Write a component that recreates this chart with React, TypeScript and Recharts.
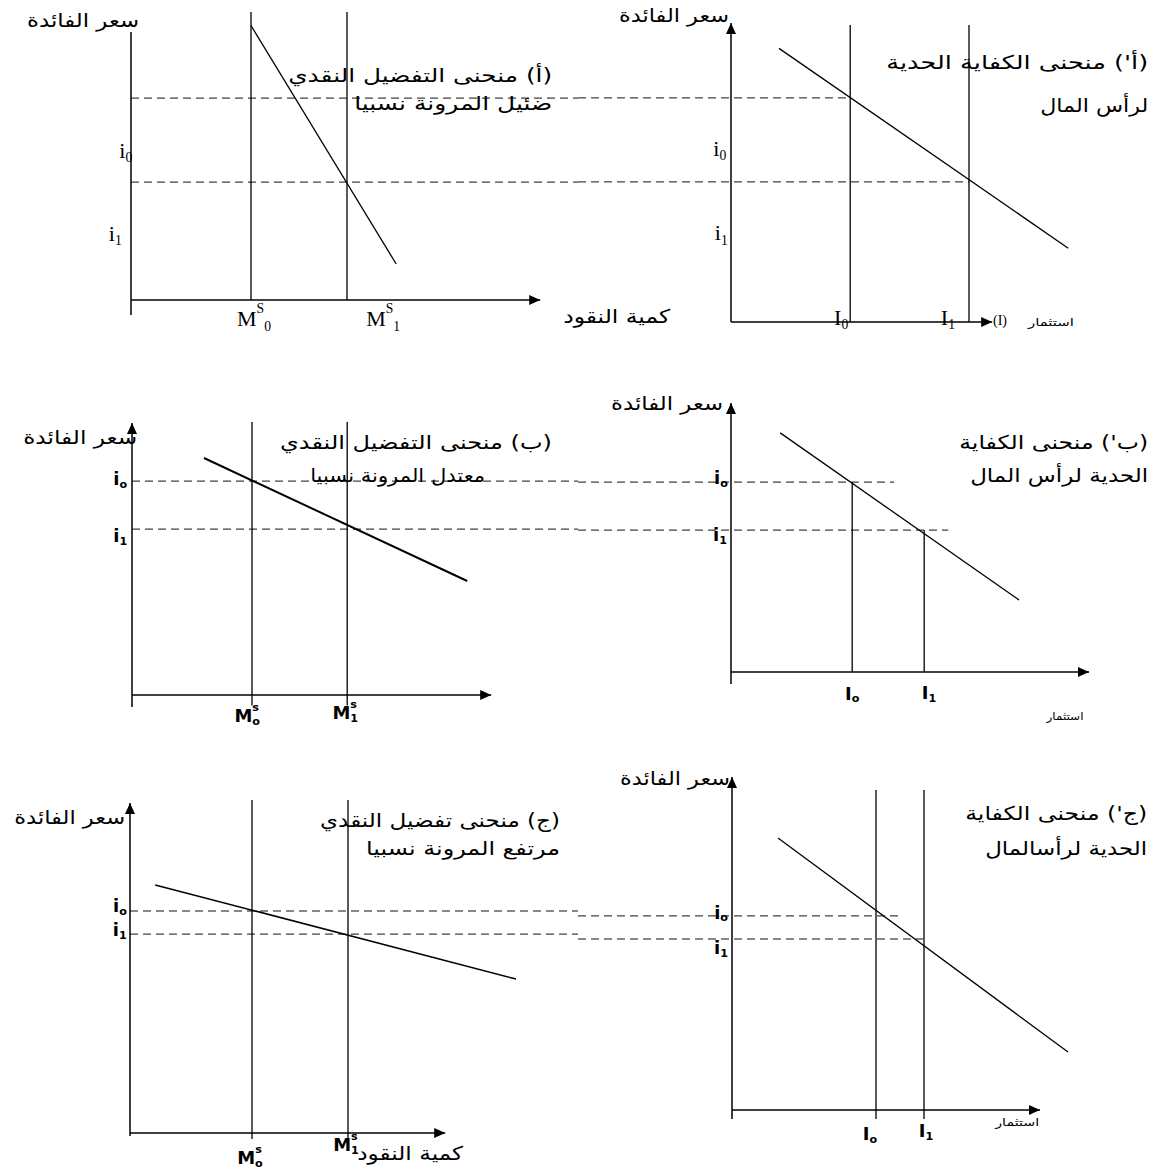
import React from "react";
import { LineChart, Line, XAxis, YAxis, ReferenceLine, ReferenceDot } from "recharts";

type Pt = { q: number; r: number };

// values are in each panel's own units: quantity along x, interest rate along y

// (أ) liquidity preference, low elasticity
const supplyA = [3.0, 5.4]; // M^S_0, M^S_1
const ratesA = [6.73, 3.93]; // i0, i1
const demandA: Pt[] = [
  { q: 3.0, r: 9.15 },
  { q: 6.63, r: 1.2 },
];

// (أ') marginal efficiency of capital
const investA = [2.98, 5.95]; // I0, I1
const mecRatesA = [7.47, 4.67];
const mecA: Pt[] = [
  { q: 1.2, r: 9.12 },
  { q: 8.43, r: 2.46 },
];

// (ب) liquidity preference, moderate elasticity
const supplyB = [3.0, 5.38];
const ratesB = [7.13, 5.53];
const demandB: Pt[] = [
  { q: 1.8, r: 7.9 },
  { q: 8.38, r: 3.8 },
];

// (ب')
const investB = [3.03, 4.83];
const mecRatesB = [6.33, 4.73];
const mecGuideEndB = [4.08, 5.43];
const mecB: Pt[] = [
  { q: 1.23, r: 7.97 },
  { q: 7.2, r: 2.4 },
];

// (ج) liquidity preference, high elasticity
const supplyC = [3.05, 5.45];
const ratesC = [7.4, 6.63];
const demandC: Pt[] = [
  { q: 0.63, r: 8.27 },
  { q: 9.65, r: 5.13 },
];

// (ج')
const investC = [3.6, 4.8];
const mecRatesC = [6.47, 5.7];
const mecGuideEndC = [4.18, 4.78];
const mecC: Pt[] = [
  { q: 1.15, r: 9.07 },
  { q: 8.4, r: 1.93 },
];

const RATE = "سعر الفائدة";
const MONEY = "كمية النقود";
const INVEST = "استثمار";
const titleA = ["(أ) منحنى التفضيل النقدي", "ضئيل المرونة نسبيا"];
const titleA2 = ["(أ') منحنى الكفاية الحدية", "لرأس المال"];
const titleB = ["(ب) منحنى التفضيل النقدي", "معتدل المرونة نسبيا"];
const titleB2 = ["(ب') منحنى الكفاية", "الحدية لرأس المال"];
const titleC = ["(ج) منحنى تفضيل النقدي", "مرتفع المرونة نسبيا"];
const titleC2 = ["(ج') منحنى الكفاية", "الحدية لرأسالمال"];

// layout
const PX_Q = 40; // px per quantity unit
const PX_R = 30; // px per rate unit
const SPLIT = 578; // where the left and right panels meet

type Tag = {
  q: number;
  r: number;
  text: string;
  sup?: string;
  sub?: string;
  kind: "ar" | "arSmall" | "serif" | "hand" | "small";
  align: "left" | "right" | "center";
  w?: number; // stretch arabic text to this width
};

type Edge = number | "edge";

type PanelSpec = {
  box: [number, number, number, number];
  origin: [number, number];
  curve: Pt[];
  curveWidth: number;
  verticals: { q: number; from: number; to: number }[];
  guides: { r: number; from: Edge; to: Edge }[];
  xAxisEnd: number;
  yAxis: [number, number];
  yArrow: boolean;
  tags: Tag[];
};

const FONT = {
  ar: { family: "'DejaVu Sans', sans-serif", size: 19, weight: 400 },
  arSmall: { family: "'DejaVu Sans', sans-serif", size: 11, weight: 400 },
  serif: { family: "'Liberation Serif', serif", size: 22, weight: 400 },
  hand: { family: "'DejaVu Sans', sans-serif", size: 18, weight: 700 },
  small: { family: "'Liberation Serif', serif", size: 14, weight: 400 },
};

const tagShape = (tag: Tag) => (p: any) => {
  const f = FONT[tag.kind];
  const rtl = tag.kind === "ar" || tag.kind === "arSmall";
  let anchor = tag.align === "center" ? "middle" : tag.align === "right" ? "end" : "start";
  if (rtl && tag.align !== "center") anchor = tag.align === "right" ? "start" : "end";
  const small = f.size * 0.62;
  const stack = tag.kind === "hand" && tag.sup;
  return (
    <text
      x={p.cx}
      y={p.cy}
      fontFamily={f.family}
      fontSize={f.size}
      fontWeight={f.weight}
      fill="#000"
      textAnchor={anchor}
      dominantBaseline="central"
      direction={rtl ? "rtl" : "ltr"}
      textLength={tag.w}
      lengthAdjust={tag.w ? "spacingAndGlyphs" : undefined}
    >
      {tag.text}
      {tag.sup && (
        <tspan dy={-f.size * 0.45} fontSize={small}>
          {tag.sup}
        </tspan>
      )}
      {tag.sub && (
        <tspan dx={stack ? -small * 0.6 : 0} dy={tag.sup ? f.size * 0.8 : f.size * 0.3} fontSize={small}>
          {tag.sub}
        </tspan>
      )}
    </text>
  );
};

const arrowRight = (p: any) => (
  <polygon points={`${p.cx},${p.cy} ${p.cx - 11},${p.cy - 5} ${p.cx - 11},${p.cy + 5}`} fill="#000" />
);
const arrowUp = (p: any) => (
  <polygon points={`${p.cx},${p.cy} ${p.cx - 5},${p.cy + 11} ${p.cx + 5},${p.cy + 11}`} fill="#000" />
);

function Panel({ spec }: { spec: PanelSpec }) {
  const [left, top, width, height] = spec.box;
  const [ox, oy] = spec.origin;
  const xDomain = [(left - ox) / PX_Q, (left + width - ox) / PX_Q];
  const yDomain = [(oy - top - height) / PX_R, (oy - top) / PX_R];
  const edge = (SPLIT - ox) / PX_Q;
  const at = (v: Edge) => (v === "edge" ? edge : v);

  return (
    <div style={{ position: "absolute", left, top }}>
      <LineChart width={width} height={height} data={spec.curve} margin={{ top: 0, right: 0, bottom: 0, left: 0 }}>
        <XAxis type="number" dataKey="q" domain={xDomain} hide allowDataOverflow />
        <YAxis type="number" domain={yDomain} hide allowDataOverflow />
        {spec.guides.map((g, i) => (
          <ReferenceLine
            key={`g${i}`}
            segment={[
              { x: at(g.from), y: g.r },
              { x: at(g.to), y: g.r },
            ]}
            stroke="#111"
            strokeWidth={1}
            strokeDasharray="8 5"
            ifOverflow="visible"
          />
        ))}
        {spec.verticals.map((v, i) => (
          <ReferenceLine
            key={`v${i}`}
            segment={[
              { x: v.q, y: v.from },
              { x: v.q, y: v.to },
            ]}
            stroke="#000"
            strokeWidth={1.3}
            ifOverflow="visible"
          />
        ))}
        <ReferenceLine
          segment={[
            { x: 0, y: 0 },
            { x: spec.xAxisEnd, y: 0 },
          ]}
          stroke="#000"
          strokeWidth={1.5}
          ifOverflow="visible"
        />
        <ReferenceLine
          segment={[
            { x: 0, y: spec.yAxis[0] },
            { x: 0, y: spec.yAxis[1] },
          ]}
          stroke="#000"
          strokeWidth={1.5}
          ifOverflow="visible"
        />
        <Line dataKey="r" stroke="#000" strokeWidth={spec.curveWidth} dot={false} activeDot={false} isAnimationActive={false} />
        <ReferenceDot x={spec.xAxisEnd} y={0} r={0} ifOverflow="visible" shape={arrowRight} />
        {spec.yArrow && <ReferenceDot x={0} y={spec.yAxis[1]} r={0} ifOverflow="visible" shape={arrowUp} />}
        {spec.tags.map((t, i) => (
          <ReferenceDot key={`t${i}`} x={t.q} y={t.r} r={0} ifOverflow="visible" shape={tagShape(t)} />
        ))}
      </LineChart>
    </div>
  );
}

const LEFT_W = 720;
const RIGHT_W = 579;

const panels: PanelSpec[] = [
  {
    box: [0, 0, LEFT_W, 345],
    origin: [131, 300],
    curve: demandA,
    curveWidth: 1.3,
    verticals: supplyA.map((q) => ({ q, from: 0, to: 9.6 })),
    guides: ratesA.map((r) => ({ r, from: 0, to: "edge" as Edge })),
    xAxisEnd: 10.23,
    yAxis: [-0.5, 8.93],
    yArrow: false,
    tags: [
      { q: 0.2, r: 9.33, text: RATE, kind: "ar", align: "right", w: 112 },
      { q: 0.03, r: 5.0, text: "i", sub: "0", kind: "serif", align: "right" },
      { q: -0.23, r: 2.23, text: "i", sub: "1", kind: "serif", align: "right" },
      { q: 2.65, r: -0.6, text: "M", sup: "S", sub: "0", kind: "serif", align: "left" },
      { q: 5.88, r: -0.6, text: "M", sup: "S", sub: "1", kind: "serif", align: "left" },
      { q: 13.48, r: -0.53, text: MONEY, kind: "ar", align: "right", w: 107 },
      { q: 10.53, r: 7.5, text: titleA[0], kind: "ar", align: "right", w: 264 },
      { q: 10.53, r: 6.57, text: titleA[1], kind: "ar", align: "right", w: 198 },
    ],
  },
  {
    box: [SPLIT, 0, RIGHT_W, 345],
    origin: [731, 322],
    curve: mecA,
    curveWidth: 1.3,
    verticals: investA.map((q) => ({ q, from: 0, to: 9.9 })),
    guides: mecRatesA.map((r, i) => ({ r, from: "edge" as Edge, to: investA[i] })),
    xAxisEnd: 6.53,
    yAxis: [0, 9.97],
    yArrow: true,
    tags: [
      { q: -0.05, r: 10.23, text: RATE, kind: "ar", align: "right", w: 110 },
      { q: -0.12, r: 5.8, text: "i", sub: "0", kind: "serif", align: "right" },
      { q: -0.08, r: 2.97, text: "i", sub: "1", kind: "serif", align: "right" },
      { q: 2.93, r: 0.15, text: "I", sub: "0", kind: "serif", align: "right" },
      { q: 5.6, r: 0.15, text: "I", sub: "1", kind: "serif", align: "right" },
      { q: 6.55, r: 0.05, text: "(I)", kind: "small", align: "left" },
      { q: 8.0, r: -0.03, text: INVEST, kind: "arSmall", align: "center", w: 46 },
      { q: 10.43, r: 8.67, text: titleA2[0], kind: "ar", align: "right", w: 262 },
      { q: 10.43, r: 7.23, text: titleA2[1], kind: "ar", align: "right", w: 108 },
    ],
  },
  {
    box: [0, 380, LEFT_W, 355],
    origin: [132, 695],
    curve: demandB,
    curveWidth: 2,
    verticals: supplyB.map((q) => ({ q, from: -0.35, to: 9.1 })),
    guides: ratesB.map((r) => ({ r, from: 0, to: "edge" as Edge })),
    xAxisEnd: 8.98,
    yAxis: [-0.4, 9.07],
    yArrow: true,
    tags: [
      { q: 0.13, r: 8.6, text: RATE, kind: "ar", align: "right", w: 114 },
      { q: -0.12, r: 7.23, text: "i", sub: "o", kind: "hand", align: "right" },
      { q: -0.12, r: 5.33, text: "i", sub: "1", kind: "hand", align: "right" },
      { q: 2.88, r: -0.67, text: "M", sup: "s", sub: "o", kind: "hand", align: "center" },
      { q: 5.33, r: -0.57, text: "M", sup: "s", sub: "1", kind: "hand", align: "center" },
      { q: 10.5, r: 8.43, text: titleB[0], kind: "ar", align: "right", w: 272 },
      { q: 8.83, r: 7.33, text: titleB[1], kind: "ar", align: "right", w: 175 },
    ],
  },
  {
    box: [SPLIT, 380, RIGHT_W, 355],
    origin: [731, 672],
    curve: mecB,
    curveWidth: 1.3,
    verticals: investB.map((q, i) => ({ q, from: 0, to: mecRatesB[i] })),
    guides: mecRatesB.map((r, i) => ({ r, from: "edge" as Edge, to: mecGuideEndB[i] })),
    xAxisEnd: 8.95,
    yAxis: [-0.4, 8.97],
    yArrow: true,
    tags: [
      { q: -0.2, r: 8.97, text: RATE, kind: "ar", align: "right", w: 112 },
      { q: -0.08, r: 6.47, text: "i", sub: "o", kind: "hand", align: "right" },
      { q: -0.1, r: 4.57, text: "i", sub: "1", kind: "hand", align: "right" },
      { q: 3.03, r: -0.7, text: "I", sub: "o", kind: "hand", align: "center" },
      { q: 4.95, r: -0.67, text: "I", sub: "1", kind: "hand", align: "center" },
      { q: 8.35, r: -1.47, text: INVEST, kind: "arSmall", align: "center", w: 37 },
      { q: 10.43, r: 7.67, text: titleB2[0], kind: "ar", align: "right", w: 189 },
      { q: 10.43, r: 6.57, text: titleB2[1], kind: "ar", align: "right", w: 178 },
    ],
  },
  {
    box: [0, 760, LEFT_W, 412],
    origin: [130, 1133],
    curve: demandC,
    curveWidth: 1.6,
    verticals: supplyC.map((q) => ({ q, from: -0.2, to: 11.1 })),
    guides: ratesC.map((r) => ({ r, from: 0, to: "edge" as Edge })),
    xAxisEnd: 7.88,
    yAxis: [-0.1, 11.0],
    yArrow: true,
    tags: [
      { q: -0.12, r: 10.53, text: RATE, kind: "ar", align: "right", w: 111 },
      { q: -0.08, r: 7.57, text: "i", sub: "o", kind: "hand", align: "right" },
      { q: -0.08, r: 6.77, text: "i", sub: "1", kind: "hand", align: "right" },
      { q: 3.0, r: -0.8, text: "M", sup: "s", sub: "o", kind: "hand", align: "center" },
      { q: 5.4, r: -0.37, text: "M", sup: "s", sub: "1", kind: "hand", align: "center" },
      { q: 8.33, r: -0.67, text: MONEY, kind: "ar", align: "right", w: 106 },
      { q: 10.75, r: 10.43, text: titleC[0], kind: "ar", align: "right", w: 240 },
      { q: 10.75, r: 9.5, text: titleC[1], kind: "ar", align: "right", w: 194 },
    ],
  },
  {
    box: [SPLIT, 760, RIGHT_W, 412],
    origin: [732, 1110],
    curve: mecC,
    curveWidth: 1.3,
    verticals: investC.map((q) => ({ q, from: -0.3, to: 10.67 })),
    guides: mecRatesC.map((r, i) => ({ r, from: "edge" as Edge, to: mecGuideEndC[i] })),
    xAxisEnd: 7.7,
    yAxis: [-0.3, 11.1],
    yArrow: true,
    tags: [
      { q: -0.05, r: 11.07, text: RATE, kind: "ar", align: "right", w: 110 },
      { q: -0.1, r: 6.6, text: "i", sub: "o", kind: "hand", align: "right" },
      { q: -0.1, r: 5.43, text: "i", sub: "1", kind: "hand", align: "right" },
      { q: 3.45, r: -0.77, text: "I", sub: "o", kind: "hand", align: "center" },
      { q: 4.85, r: -0.67, text: "I", sub: "1", kind: "hand", align: "center" },
      { q: 7.13, r: -0.43, text: INVEST, kind: "arSmall", align: "center", w: 44 },
      { q: 10.38, r: 9.9, text: titleC2[0], kind: "ar", align: "right", w: 182 },
      { q: 10.38, r: 8.73, text: titleC2[1], kind: "ar", align: "right", w: 162 },
    ],
  },
];

export default function App() {
  return (
    <>
      <style>{"body{margin:0}"}</style>
      <div style={{ position: "relative", width: 1157, height: 1172, background: "#fff", overflow: "hidden" }}>
        {panels.map((p, i) => (
          <Panel key={i} spec={p} />
        ))}
      </div>
    </>
  );
}
